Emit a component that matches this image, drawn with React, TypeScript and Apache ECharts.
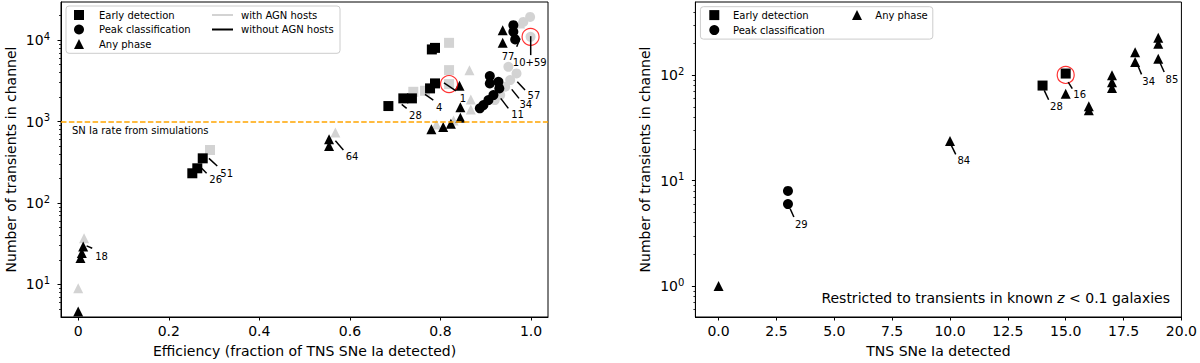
import React, { useEffect, useRef } from "react";
import * as echarts from "echarts";

type Pt = [number, number];

// ---------- Left panel: efficiency vs. number of transients ----------
const leftGrayEarly: Pt[] = [[0.291, 448], [0.740, 2322], [0.766, 2390], [0.819, 2887], [0.819, 4285], [0.819, 9270]];
const leftGrayPeak: Pt[] = [[0.920, 1838], [0.932, 2117], [0.943, 2676], [0.954, 3233], [0.968, 3905], [0.950, 4705], [0.999, 10970], [0.983, 16750], [0.998, 19300]];
const leftGrayAny: Pt[] = [[0, 9.0], [0.013, 37], [0.568, 733], [0.791, 923], [0.829, 1033], [0.867, 1409], [0.867, 1862], [0.864, 4285], [0.976, 16020]];
const leftBlackEarly: Pt[] = [[0.252, 232], [0.263, 267], [0.275, 354], [0.685, 1552], [0.718, 1928], [0.737, 1928], [0.777, 2557], [0.788, 2944], [0.781, 7690], [0.788, 8035]];
const leftBlackPeak: Pt[] = [[0.887, 1454], [0.895, 1596], [0.906, 1838], [0.917, 2117], [0.930, 2556], [0.928, 3081], [0.909, 2944], [0.909, 3619], [0.965, 10200], [0.961, 12640], [0.961, 15270]];
const leftBlackAny: Pt[] = [[0, 4.67], [0.005, 21.1], [0.008, 24.3], [0.011, 29.2], [0.554, 503], [0.554, 607], [0.780, 803], [0.806, 857], [0.823, 942], [0.844, 1114], [0.844, 1500], [0.842, 2755], [0.9375, 9270], [0.9375, 13260]];
const leftHighlight: Pt[] = [[0.819, 2887], [0.999, 10970]];
const simRate = 1000;

const leftNotes = [
  { label: "26", from: [0.2726, 267], to: [0.2836, 232], at: [0.3035, 192] },
  { label: "51", from: [0.2887, 354], to: [0.307, 285], at: [0.3278, 232] },
  { label: "18", from: [0.0186, 29.8], to: [0.0309, 27.9], at: [0.0517, 22.0] },
  { label: "64", from: [0.568, 580], to: [0.5856, 449], at: [0.6047, 370] },
  { label: "28", from: [0.7144, 1628], to: [0.7254, 1454], at: [0.7448, 1193] },
  { label: "4", from: [0.7659, 2159], to: [0.7842, 1838], at: [0.7972, 1495] },
  { label: "1", from: [0.8078, 2995], to: [0.8343, 2389], at: [0.8496, 1945] },
  { label: "11", from: [0.9331, 1929], to: [0.9499, 1454], at: [0.9702, 1214] },
  { label: "34", from: [0.9574, 2486], to: [0.9735, 1929], at: [0.9885, 1620] },
  { label: "57", from: [0.9697, 3081], to: [0.9868, 2437], at: [1.0064, 2080] },
  { label: "77", from: [0.9757, 10490], to: [0.9684, 8277], at: [0.9492, 6367] },
  { label: "10+59", from: [0.9993, 11190], to: [0.9993, 6550], at: [0.9971, 5374] },
];

const leftXTicks = [0, 0.2, 0.4, 0.6, 0.8, 1.0];
const leftYTicks = [10, 100, 1000, 10000];
const leftYMinor = [5, 6, 7, 8, 9, 20, 30, 40, 50, 60, 70, 80, 90, 200, 300, 400, 500, 600, 700, 800, 900, 2000, 3000, 4000, 5000, 6000, 7000, 8000, 9000, 20000];
const leftXRange = [-0.038, 1.0375];
const leftYRange = [3.99, 29400];

// ---------- Right panel: TNS SNe Ia detected (z < 0.1 hosts) ----------
const rightEarly: Pt[] = [[14, 80], [15, 104]];
const rightPeak: Pt[] = [[3, 8], [3, 6]];
const rightAny: Pt[] = [[0, 1], [10, 23.8], [15, 67], [16, 51], [16, 46.6], [17, 100], [17, 86], [17, 76], [18, 166], [18, 134], [19, 228], [19, 200], [19, 144]];
const rightHighlight: Pt[] = [[15, 101]];

const rightNotes = [
  { label: "29", from: [3.095, 5.42], to: [3.255, 4.52], at: [3.577, 3.85] },
  { label: "84", from: [10.058, 21.6], to: [10.248, 17.8], at: [10.6, 15.4] },
  { label: "28", from: [14.073, 72.1], to: [14.263, 58.7], at: [14.599, 50.8] },
  { label: "16", from: [15.109, 86.4], to: [15.285, 74.7], at: [15.606, 65.5] },
  { label: "34", from: [18.102, 126.3], to: [18.277, 102.2], at: [18.584, 87.7] },
  { label: "85", from: [19.08, 131], to: [19.255, 107.5], at: [19.591, 91.6] },
];

const rightXTicks = [0, 2.5, 5, 7.5, 10, 12.5, 15, 17.5, 20];
const rightYTicks = [1, 10, 100];
const rightYMinor = [0.6, 0.7, 0.8, 0.9, 2, 3, 4, 5, 6, 7, 8, 9, 20, 30, 40, 50, 60, 70, 80, 90, 200, 300, 400];
const rightXRange = [-1, 20];
const rightYRange = [0.508, 497];

const FONT = '"DejaVu Sans", sans-serif';
const GRAY = "#d3d3d3";
const BLACK = "#000000";

const G = [
  { left: 61, top: 2, width: 487, height: 315.3 },
  { left: 695.4, top: 2, width: 487, height: 315.3 },
];

function powLabel(v: number) {
  return `{b|10}{s|${Math.round(Math.log10(v))}}`;
}

const yRich = {
  b: { fontSize: 14, fontFamily: FONT, color: BLACK, lineHeight: 18 },
  s: { fontSize: 10, fontFamily: FONT, color: BLACK, lineHeight: 8, verticalAlign: "top" },
};

function xAxisCfg(gridIndex: number, range: number[], ticks: number[], name: string, fmt: (v: number) => string) {
  return {
    type: "value",
    gridIndex,
    min: range[0],
    max: range[1],
    name,
    nameLocation: "middle",
    nameGap: 27,
    nameTextStyle: { fontSize: 14, fontFamily: FONT, color: BLACK },
    axisLine: { show: true, onZero: false, lineStyle: { color: BLACK, width: 1 } },
    axisTick: { show: true, length: 3.5, customValues: ticks, lineStyle: { color: BLACK, width: 1 } },
    axisLabel: { show: true, customValues: ticks, formatter: fmt, fontSize: 14, fontFamily: FONT, color: BLACK, margin: 7 },
    splitLine: { show: false },
  };
}

function yAxisCfg(gridIndex: number, range: number[], ticks: number[], name: string) {
  return {
    type: "log",
    logBase: 10,
    gridIndex,
    position: "left",
    min: range[0],
    max: range[1],
    name,
    nameLocation: "middle",
    nameGap: 43,
    nameTextStyle: { fontSize: 14, fontFamily: FONT, color: BLACK },
    axisLine: { show: true, onZero: false, lineStyle: { color: BLACK, width: 1 } },
    axisTick: { show: true, length: 3.5, customValues: ticks, lineStyle: { color: BLACK, width: 1 } },
    axisLabel: { show: true, customValues: ticks, formatter: powLabel, rich: yRich, margin: 11 },
    splitLine: { show: false },
    minorTick: { show: false },
  };
}

function yMinorCfg(gridIndex: number, range: number[], ticks: number[]) {
  return {
    type: "log",
    logBase: 10,
    gridIndex,
    position: "left",
    min: range[0],
    max: range[1],
    axisLine: { show: false, onZero: false },
    axisTick: { show: true, length: 2, customValues: ticks, lineStyle: { color: BLACK, width: 0.8 } },
    axisLabel: { show: false },
    splitLine: { show: false },
  };
}

function scatter(name: string, data: Pt[], symbol: string, color: string, xi: number, yi: number, z: number, extra: any = {}) {
  return {
    type: "scatter",
    name,
    data,
    symbol,
    symbolSize: 10,
    xAxisIndex: xi,
    yAxisIndex: yi,
    z,
    itemStyle: { color, opacity: 1 },
    emphasis: { disabled: true },
    ...extra,
  };
}

function notesSeries(notes: { label: string; from: number[]; to: number[]; at: number[] }[], xi: number, yi: number) {
  const labels = notes.map((n) => n.label);
  return {
    type: "custom",
    xAxisIndex: xi,
    yAxisIndex: yi,
    z: 10,
    clip: false,
    silent: true,
    data: notes.map((n) => [n.from[0], n.from[1], n.to[0], n.to[1], n.at[0], n.at[1]]),
    renderItem: (params: any, api: any) => {
      const a = api.coord([api.value(0), api.value(1)]);
      const b = api.coord([api.value(2), api.value(3)]);
      const t = api.coord([api.value(4), api.value(5)]);
      return {
        type: "group",
        children: [
          { type: "line", shape: { x1: a[0], y1: a[1], x2: b[0], y2: b[1] }, style: { stroke: BLACK, lineWidth: 1.5 } },
          {
            type: "text",
            x: t[0],
            y: t[1],
            style: { text: labels[params.dataIndex], fill: BLACK, font: `10px ${FONT}`, align: "center", verticalAlign: "middle" },
          },
        ],
      };
    },
  };
}

function highlight(data: Pt[], xi: number, yi: number) {
  return {
    type: "scatter",
    data,
    symbol: "circle",
    symbolSize: 17,
    xAxisIndex: xi,
    yAxisIndex: yi,
    z: 9,
    itemStyle: { color: "rgba(0,0,0,0)", borderColor: "#ff0000", borderWidth: 1.2 },
    emphasis: { disabled: true },
  };
}

function legendGraphics() {
  const txt = (x: number, y: number, s: string) => ({
    type: "text",
    x,
    y,
    style: { text: s, fill: BLACK, font: `10px ${FONT}`, align: "left", verticalAlign: "middle" },
  });
  const sq = (cx: number, cy: number) => ({ type: "rect", shape: { x: cx - 5, y: cy - 5, width: 10, height: 10 }, style: { fill: BLACK } });
  const ci = (cx: number, cy: number) => ({ type: "circle", shape: { cx, cy, r: 5 }, style: { fill: BLACK } });
  const tr = (cx: number, cy: number) => ({
    type: "polygon",
    shape: { points: [[cx, cy - 5], [cx - 5, cy + 5], [cx + 5, cy + 5]] },
    style: { fill: BLACK },
  });
  return [
    // left legend
    { type: "rect", shape: { x: 66, y: 6, width: 274, height: 47.3, r: 3 }, style: { fill: "rgba(255,255,255,0.8)", stroke: "#cccccc", lineWidth: 1 }, z: 20 },
    { ...sq(79, 15), z: 21 },
    { ...ci(79, 29.5), z: 21 },
    { ...tr(79, 44), z: 21 },
    { ...txt(99, 15, "Early detection"), z: 21 },
    { ...txt(99, 29.5, "Peak classification"), z: 21 },
    { ...txt(99, 44, "Any phase"), z: 21 },
    { type: "line", shape: { x1: 212, y1: 15, x2: 233, y2: 15 }, style: { stroke: GRAY, lineWidth: 2 }, z: 21 },
    { type: "line", shape: { x1: 212, y1: 29.5, x2: 233, y2: 29.5 }, style: { stroke: BLACK, lineWidth: 2 }, z: 21 },
    { ...txt(241, 15, "with AGN hosts"), z: 21 },
    { ...txt(241, 29.5, "without AGN hosts"), z: 21 },
    // SN Ia rate label
    { type: "text", x: 72, y: 130, style: { text: "SN Ia rate from simulations", fill: BLACK, font: `10px ${FONT}`, align: "left", verticalAlign: "middle" }, z: 21 },
    // right legend
    { type: "rect", shape: { x: 700.4, y: 6.7, width: 232.4, height: 32.4, r: 3 }, style: { fill: "rgba(255,255,255,0.8)", stroke: "#cccccc", lineWidth: 1 }, z: 20 },
    { ...sq(714.3, 15.1), z: 21 },
    { ...ci(714.3, 30.1), z: 21 },
    { ...tr(857, 15.1), z: 21 },
    { ...txt(733, 15.1, "Early detection"), z: 21 },
    { ...txt(733, 30.1, "Peak classification"), z: 21 },
    { ...txt(875.3, 15.1, "Any phase"), z: 21 },
    // restriction note
    {
      type: "text",
      x: 1170,
      y: 297.5,
      style: {
        text: "Restricted to transients in known {i|z} < 0.1 galaxies",
        fill: BLACK,
        font: `14px ${FONT}`,
        align: "right",
        verticalAlign: "middle",
        rich: { i: { fontStyle: "italic", fontSize: 14, fontFamily: FONT, fill: BLACK } },
      },
      z: 21,
    },
  ];
}

export default function App() {
  const ref = useRef<HTMLDivElement>(null);
  useEffect(() => {
    if (!ref.current) return;
    const chart = echarts.init(ref.current, null, { renderer: "svg" });
    const option: any = {
      animation: false,
      backgroundColor: "#ffffff",
      textStyle: { fontFamily: FONT },
      grid: G.map((g) => ({ ...g, show: true, borderColor: BLACK, borderWidth: 1, backgroundColor: "rgba(0,0,0,0)", containLabel: false })),
      xAxis: [
        xAxisCfg(0, leftXRange, leftXTicks, "Efficiency (fraction of TNS SNe Ia detected)", (v: number) => (v === 0 ? "0" : v.toFixed(1))),
        xAxisCfg(1, rightXRange, rightXTicks, "TNS SNe Ia detected", (v: number) => v.toFixed(1)),
      ],
      yAxis: [
        yAxisCfg(0, leftYRange, leftYTicks, "Number of transients in channel"),
        yMinorCfg(0, leftYRange, leftYMinor),
        yAxisCfg(1, rightYRange, rightYTicks, "Number of transients in channel"),
        yMinorCfg(1, rightYRange, rightYMinor),
      ],
      series: [
        scatter("gray early", leftGrayEarly, "rect", GRAY, 0, 0, 2, {
          markLine: {
            silent: true,
            symbol: ["none", "none"],
            label: { show: false },
            lineStyle: { color: "#ffa500", type: [5.5, 2.4], width: 1.5 },
            data: [{ yAxis: simRate }],
          },
        }),
        scatter("gray peak", leftGrayPeak, "circle", GRAY, 0, 0, 2),
        scatter("gray any", leftGrayAny, "triangle", GRAY, 0, 0, 2),
        scatter("black early", leftBlackEarly, "rect", BLACK, 0, 0, 3),
        scatter("black peak", leftBlackPeak, "circle", BLACK, 0, 0, 3),
        scatter("black any", leftBlackAny, "triangle", BLACK, 0, 0, 3),
        highlight(leftHighlight, 0, 0),
        notesSeries(leftNotes, 0, 0),
        scatter("r early", rightEarly, "rect", BLACK, 1, 2, 3),
        scatter("r peak", rightPeak, "circle", BLACK, 1, 2, 3),
        scatter("r any", rightAny, "triangle", BLACK, 1, 2, 3),
        highlight(rightHighlight, 1, 2),
        notesSeries(rightNotes, 1, 2),
      ],
      graphic: legendGraphics(),
    };
    chart.setOption(option);
    return () => chart.dispose();
  }, []);
  return <div ref={ref} style={{ position: "fixed", left: 0, top: 0, width: 1200, height: 363, background: "#fff" }} />;
}
